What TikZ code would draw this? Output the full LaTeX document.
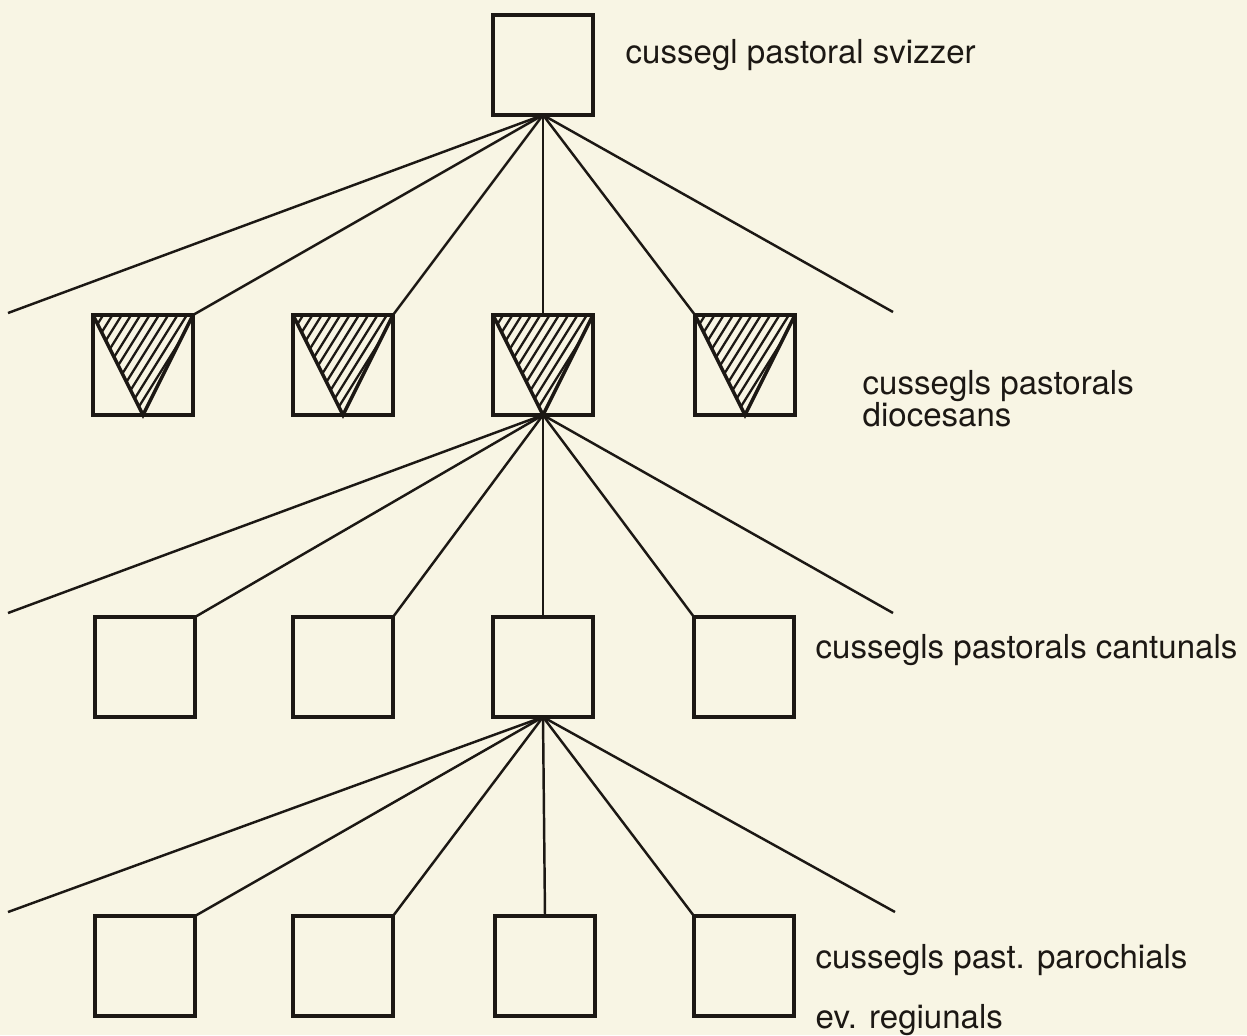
\documentclass[tikz,border=0pt]{standalone}
\usepackage{fontspec}
\setmainfont{TeX Gyre Heros}
\definecolor{paper}{RGB}{248,245,228}
\definecolor{ink}{RGB}{28,24,20}

\begin{document}
\begin{tikzpicture}[
		box/.style={draw=ink, line width=1pt, minimum width=1cm, minimum height=1cm, inner sep=0pt, outer sep=0pt},
		tri/.style={draw=ink, line width=1pt, line join=miter},
		link/.style={draw=ink, line width=0.7pt},
		hatch/.style={draw=ink, line width=0.65pt},
		labelfont/.style={text=ink, font=\fontsize{9.4}{11}\selectfont, anchor=base west, inner sep=0pt}
	]
		% 纸张背景
		\fill[paper] (0,0) rectangle (12.47,-10.35);
		\useasboundingbox (0,0) rectangle (12.47,-10.35);

		% 最上层的方框
		\node[box] (ch) at (5.43,-0.65) {};
		\node[labelfont] (tch) at (6.25,-0.63) {cussegl pastoral svizzer};

		% 第二层: 带斜线三角形的方框
		\node[box] (d1) at (1.43,-3.65) {};
		\node[box] (d2) at (3.43,-3.65) {};
		\node[box] (d3) at (5.43,-3.65) {};
		\node[box] (d4) at (7.45,-3.65) {};
		\foreach \b in {d1,d2,d3,d4} {
			\begin{scope}
				\clip (\b.north west) -- (\b.north east) -- (\b.south) -- cycle;
				\foreach \k in {-14,...,6}
					\draw[hatch] ([xshift=\k*0.093cm]\b.south) -- ++(58:1.5);
			\end{scope}
			\draw[tri] (\b.north west) -- (\b.south) -- (\b.north east);
		}
		\node[labelfont] (td1) at (8.62,-3.94) {cussegls pastorals};
		\node[labelfont] (td2) at (8.62,-4.26) {diocesans};

		% 第三层
		\node[box] (k1) at (1.45,-6.67) {};
		\node[box] (k2) at (3.43,-6.67) {};
		\node[box] (k3) at (5.43,-6.67) {};
		\node[box] (k4) at (7.44,-6.67) {};
		\node[labelfont] (tk) at (8.15,-6.58) {cussegls pastorals cantunals};

		% 第四层
		\node[box] (p1) at (1.45,-9.66) {};
		\node[box] (p2) at (3.43,-9.66) {};
		\node[box] (p3) at (5.45,-9.66) {};
		\node[box] (p4) at (7.44,-9.66) {};
		\node[labelfont] (tp1) at (8.15,-9.68) {cussegls past. parochials};
		\node[labelfont] (tp2) at (8.15,-10.28) {ev. regiunals};

		% 连线的自由端点
		\coordinate (l1) at (0.08,-3.13);
		\coordinate (r1) at (8.93,-3.12);
		\coordinate (l2) at (0.08,-6.13);
		\coordinate (r2) at (8.93,-6.13);
		\coordinate (l3) at (0.08,-9.12);
		\coordinate (r3) at (8.95,-9.12);

		% 从上到下的扇形连线
		\draw[link] (ch.south) -- (l1);
		\draw[link] (ch.south) -- (d1.north east);
		\draw[link] (ch.south) -- (d2.north east);
		\draw[link] (ch.south) -- (d3.north);
		\draw[link] (ch.south) -- (d4.north west);
		\draw[link] (ch.south) -- (r1);

		\draw[link] (d3.south) -- (l2);
		\draw[link] (d3.south) -- (k1.north east);
		\draw[link] (d3.south) -- (k2.north east);
		\draw[link] (d3.south) -- (k3.north);
		\draw[link] (d3.south) -- (k4.north west);
		\draw[link] (d3.south) -- (r2);

		\draw[link] (k3.south) -- (l3);
		\draw[link] (k3.south) -- (p1.north east);
		\draw[link] (k3.south) -- (p2.north east);
		\draw[link] (k3.south) -- (p3.north);
		\draw[link] (k3.south) -- (p4.north west);
		\draw[link] (k3.south) -- (r3);
	\end{tikzpicture}
\end{document}
